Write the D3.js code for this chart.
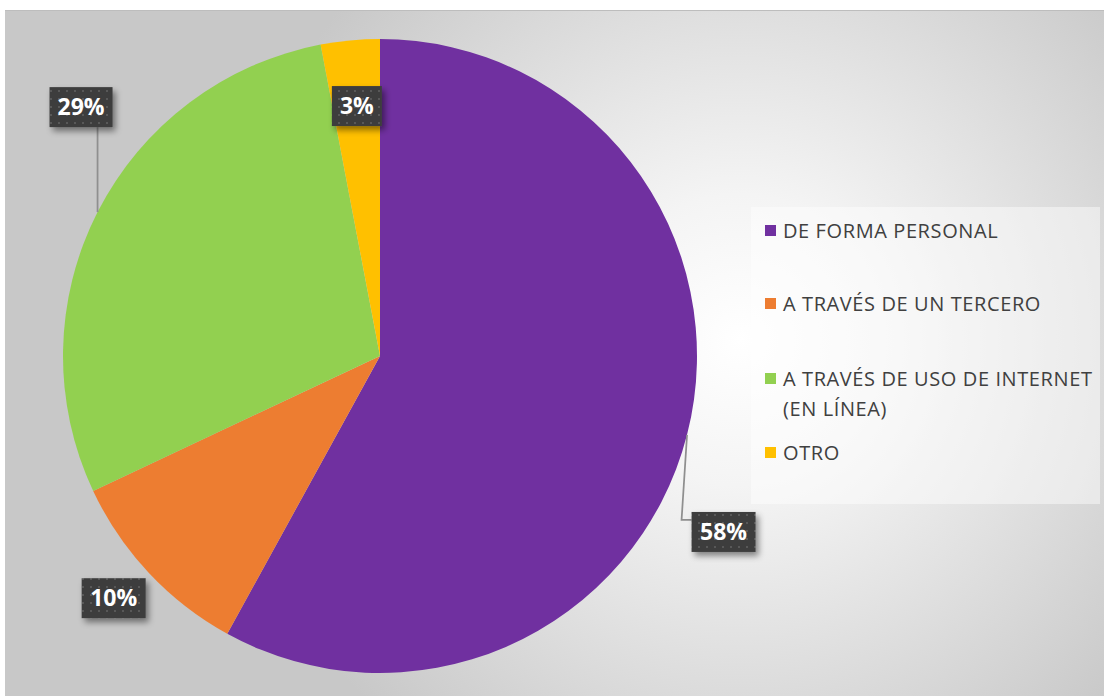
<!DOCTYPE html>
<head>
	<script src="https://d3js.org/d3.v7.min.js"></script>
	<style>
		body { margin: 0; background: #fff; }
		svg { display: block; }
	</style>
</head>
<body>
<svg></svg>
<script>
	var categories = ["DE FORMA PERSONAL", "A TRAVÉS DE UN TERCERO", "A TRAVÉS DE USO DE INTERNET (EN LÍNEA)", "OTRO"];
	var values = [58, 10, 29, 3];
	var colors = ["#7030a0", "#ed7d31", "#92d050", "#ffc000"];
	var labels = ["58%", "10%", "29%", "3%"];

	var width = 1104, height = 696;
	var cx = 380, cy = 356, radius = 317;

	var svg = d3.select("svg")
		.attr("width", width)
		.attr("height", height);

	var defs = svg.append("defs");

	var bg = defs.append("radialGradient")
		.attr("id", "bg")
		.attr("gradientUnits", "userSpaceOnUse")
		.attr("cx", 740).attr("cy", 340).attr("r", 520);
	bg.append("stop").attr("offset", "0%").attr("stop-color", "#ffffff");
	bg.append("stop").attr("offset", "28%").attr("stop-color", "#f4f4f4");
	bg.append("stop").attr("offset", "100%").attr("stop-color", "#c8c8c8");

	var dots = defs.append("pattern")
		.attr("id", "dots")
		.attr("patternUnits", "userSpaceOnUse")
		.attr("width", 8).attr("height", 8);
	dots.append("rect").attr("width", 8).attr("height", 8).attr("fill", "#3d3d3d");
	dots.append("rect").attr("x", 2).attr("y", 2).attr("width", 2).attr("height", 2).attr("fill", "#585858");

	var shadow = defs.append("filter").attr("id", "shadow")
		.attr("x", "-20%").attr("y", "-30%").attr("width", "150%").attr("height", "180%");
	shadow.append("feDropShadow")
		.attr("dx", 3).attr("dy", 4).attr("stdDeviation", 3)
		.attr("flood-color", "#000").attr("flood-opacity", 0.45);

	// chart area
	svg.append("rect")
		.attr("x", 5).attr("y", 10)
		.attr("width", width - 5).attr("height", height - 10)
		.attr("fill", "url(#bg)");
	svg.append("line")
		.attr("x1", 5).attr("x2", width).attr("y1", 10.5).attr("y2", 10.5)
		.attr("stroke", "#bdbdbd").attr("stroke-width", 1);

	var pie = d3.pie().sort(null).value(function(d) { return d; });
	var arc = d3.arc().innerRadius(0).outerRadius(radius);
	var arcs = pie(values);

	var g = svg.append("g").attr("transform", "translate(" + cx + "," + cy + ")");

	g.selectAll("path")
		.data(arcs)
		.enter()
		.append("path")
		.attr("d", arc)
		.attr("fill", function(d, i) { return colors[i]; });

	// label boxes, placed by distance and angle offset from each slice's mid angle
	var labelPos = [
		{ r: 386, da: 0.222, w: 64 },
		{ r: 360, da: 0.016, w: 64 },
		{ r: 389, da: 0.223, w: 63 },
		{ r: 251, da: 0.002, w: 50 }
	];
	var boxH = 40;

	function edgePoint(a) {
		return [cx + Math.sin(a) * radius, cy - Math.cos(a) * radius];
	}

	arcs.forEach(function(d, i) {
		var midA = (d.startAngle + d.endAngle) / 2;
		var a = midA + labelPos[i].da;
		var lx = cx + Math.sin(a) * labelPos[i].r;
		var ly = cy - Math.cos(a) * labelPos[i].r;
		var w = labelPos[i].w;
		var bx = lx - w / 2, by = ly - boxH / 2;
		var e = edgePoint(midA);

		// leader lines
		if (i === 0) {
			svg.append("polyline")
				.attr("points", [[e[0], e[1]], [bx - 10, by + 8], [bx, by + 8]].join(" "))
				.attr("fill", "none").attr("stroke", "#8f8f8f").attr("stroke-width", 1.75);
		}
		if (i === 2) {
			svg.append("polyline")
				.attr("points", [[e[0], by + boxH], [e[0], e[1]]].join(" "))
				.attr("fill", "none").attr("stroke", "#8f8f8f").attr("stroke-width", 1.75);
		}

		svg.append("rect")
			.attr("x", bx).attr("y", by)
			.attr("width", w).attr("height", boxH)
			.attr("fill", "url(#dots)")
			.attr("filter", "url(#shadow)");
		svg.append("text")
			.attr("x", lx).attr("y", ly + 8)
			.attr("text-anchor", "middle")
			.attr("font-family", "'Open Sans', sans-serif")
			.attr("font-weight", "bold")
			.attr("font-size", 23)
			.attr("fill", "#ffffff")
			.text(labels[i]);
	});

	// legend
	var legend = svg.append("g");
	legend.append("rect")
		.attr("x", 751).attr("y", 207)
		.attr("width", 349).attr("height", 297)
		.attr("fill", "#ffffff").attr("fill-opacity", 0.45);

	var legendY = [231, 304, 379, 453];
	categories.forEach(function(c, i) {
		legend.append("rect")
			.attr("x", 765).attr("y", legendY[i] - 6)
			.attr("width", 11).attr("height", 11)
			.attr("fill", colors[i]);
		var t = legend.append("text")
			.attr("x", 783).attr("y", legendY[i] + 7)
			.attr("font-family", "'Open Sans', sans-serif")
			.attr("font-size", 20)
			.attr("letter-spacing", 0.6)
			.attr("fill", "#404040");
		if (i === 2) {
			t.append("tspan").attr("x", 783).text("A TRAVÉS DE USO DE INTERNET");
			t.append("tspan").attr("x", 783).attr("dy", 30).text("(EN LÍNEA)");
		} else {
			t.text(c);
		}
	});
</script>
</body>
</html>
